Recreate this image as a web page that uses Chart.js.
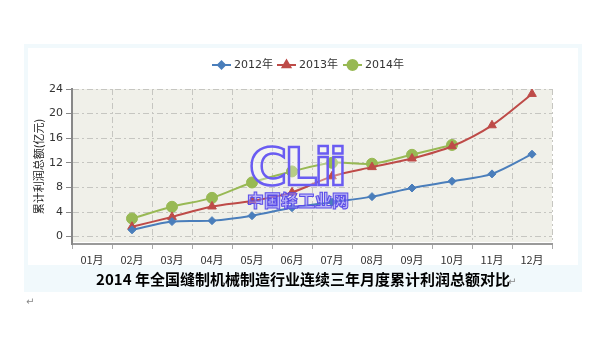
<!DOCTYPE html>
<html>
<head>
<meta charset="utf-8">
<script src="https://cdn.jsdelivr.net/npm/chart.js@4/dist/chart.umd.min.js"></script>
<style>
  html, body { margin: 0; padding: 0; background: #ffffff; }
  #wrap { position: relative; width: 600px; height: 350px; overflow: hidden; }
  #outer { position: absolute; left: 24px; top: 44px; width: 558px; height: 248px; background: #f1f9fc; }
  #inner { position: absolute; left: 28px; top: 48px; width: 550px; height: 217px; background: #ffffff; }
  #cv { position: absolute; left: 0; top: 0; }
  #title { position: absolute; left: 24px; top: 268px; width: 558px; height: 26px; line-height: 26px;
           text-align: center; font: bold 15px "Noto Sans CJK SC", "Noto Sans", sans-serif; color: #000; }
  .ret { position: absolute; font: 10px "DejaVu Sans", sans-serif; color: #888; }
  #wm1 { position: absolute; left: 249px; top: 137px; font: bold 52px "DejaVu Sans", sans-serif; letter-spacing: -3px;
         color: rgba(255,255,255,0.3); -webkit-text-stroke: 2.5px #6a5cf2; pointer-events: none; }
  #wm2 { position: absolute; left: 247px; top: 187px; font: 900 17px "Noto Sans CJK SC", sans-serif; letter-spacing: 0px;
         color: rgba(150,140,255,0.6); -webkit-text-stroke: 1px #5a4ce8; pointer-events: none; }
</style>
</head>
<body>
<div id="wrap">
  <div id="outer"></div>
  <div id="inner"></div>
  <canvas id="cv" width="600" height="350"></canvas>
  <div id="wm1">CLii</div>
  <div id="wm2">中国轻工业网</div>
  <div id="title">2014 年全国缝制机械制造行业连续三年月度累计利润总额对比</div>
  <div class="ret" style="left:508px; top:276px;">↵</div>
  <div class="ret" style="left:26px; top:296px;">↵</div>
</div>
<script>
const months = ['01月','02月','03月','04月','05月','06月','07月','08月','09月','10月','11月','12月'];
const seriesNames = ['2012年','2013年','2014年'];
const profit2012 = [null, 1.1, 2.45, 2.6, 3.4, 4.7, 5.6, 6.5, 7.9, 9.0, 10.2, 13.4];
const profit2013 = [null, 1.6, 3.2, 4.9, 5.8, 7.2, 9.8, 11.3, 12.7, 14.7, 18.1, 23.2];
const profit2014 = [null, 2.95, 4.85, 6.3, 8.8, 10.6, 12.0, 11.85, 13.3, 14.9, null, null];
const yTicks = [0, 4, 8, 12, 16, 20, 24];
const yTitle = '累计利润总额(亿元)';

const colors = ['#4a7ebb', '#be4b48', '#98b954'];
const styles = ['rectRot', 'triangle', 'circle'];
const radii = [4, 5, 5.5];

const plotBg = {
  id: 'plotBg',
  beforeDraw(chart) {
    const {ctx, chartArea: a} = chart;
    ctx.save();
    ctx.fillStyle = '#f0f0e9';
    ctx.fillRect(a.left, a.top, a.right - a.left, a.bottom - a.top - 2);
    ctx.restore();
  }
};

const customLegend = {
  id: 'customLegend',
  afterDraw(chart) {
    const ctx = chart.ctx;
    const y = 65;
    const starts = [212, 277, 343];
    ctx.save();
    ctx.font = '11px "DejaVu Sans", "Noto Sans CJK SC", sans-serif';
    ctx.textBaseline = 'middle';
    ctx.textAlign = 'left';
    seriesNames.forEach((name, i) => {
      const x0 = starts[i];
      ctx.strokeStyle = colors[i];
      ctx.fillStyle = colors[i];
      ctx.lineWidth = 2;
      ctx.beginPath();
      ctx.moveTo(x0, y);
      ctx.lineTo(x0 + 19, y);
      ctx.stroke();
      Chart.helpers.drawPoint(ctx, {pointStyle: styles[i], radius: radii[i] - 0.5, rotation: 0, borderWidth: 1}, x0 + 9.5, y);
      ctx.fillStyle = '#333';
      ctx.fillText(name, x0 + 22, y + 0.5);
    });
    ctx.restore();
  }
};

const datasets = [profit2012, profit2013, profit2014].map((d, i) => ({
  label: seriesNames[i],
  data: d,
  borderColor: colors[i],
  backgroundColor: colors[i],
  borderWidth: 2,
  pointStyle: styles[i],
  pointRadius: radii[i],
  pointBorderWidth: 1,
  tension: 0.3,
  spanGaps: false
}));

new Chart(document.getElementById('cv'), {
  type: 'line',
  data: { labels: months, datasets },
  options: {
    responsive: false,
    animation: false,
    devicePixelRatio: 1,
    layout: { padding: { left: 32, right: 48, top: 89, bottom: 76 } },
    plugins: { legend: { display: false }, title: { display: false }, tooltip: { enabled: false } },
    scales: {
      x: {
        offset: true,
        afterFit(s) { s.height = 30; },
        grid: {
          offset: true,
          color: '#c6c6c1',
          drawTicks: true,
          tickLength: 5,
          tickColor: '#aaa',
          tickBorderDash: []
        },
        border: { display: true, color: '#9a9a9a', width: 2, dash: [6, 3, 2, 3] },
        ticks: { color: '#333', padding: 4, font: { size: 11, family: '"Noto Sans CJK SC", "DejaVu Sans", sans-serif' } }
      },
      y: {
        min: -1.2,
        max: 24,
        afterBuildTicks(axis) { axis.ticks = yTicks.map(v => ({ value: v })); },
        afterFit(s) { s.width = 40; },
        grid: {
          color: '#c6c6c1',
          drawTicks: true,
          tickLength: 6,
          tickColor: '#888',
          tickBorderDash: []
        },
        border: { display: true, color: '#888', width: 2, dash: [6, 3, 2, 3] },
        ticks: { color: '#333', padding: 3, font: { size: 11, family: '"DejaVu Sans", sans-serif' } },
        title: {
          display: true,
          text: yTitle,
          color: '#222',
          padding: 0,
          font: { size: 11, family: '"Noto Sans CJK SC", sans-serif' }
        }
      }
    }
  },
  plugins: [plotBg, customLegend]
});
</script>
</body>
</html>
